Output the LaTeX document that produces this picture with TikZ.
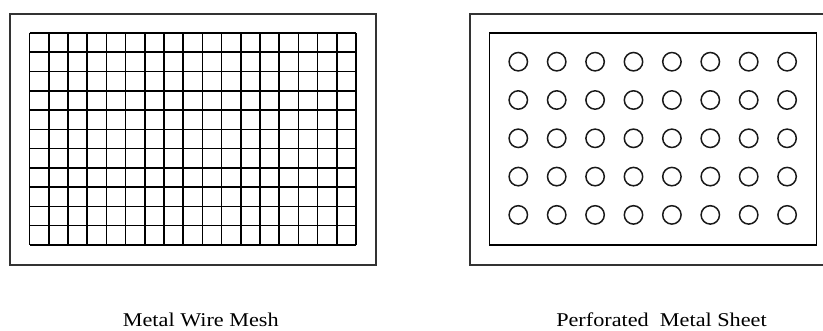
\documentclass[tikz,border=0pt]{standalone}
\usepackage{fontspec}
\setmainfont{Liberation Serif}
\usepackage{tikz}
\usetikzlibrary{positioning}

\begin{document}
\begin{tikzpicture}[
      x=1pt, y=-1pt,
      frame/.style={draw=black!80, line width=1.7pt},
      panel/.style={draw=black, line width=1.6pt},
      wire/.style={draw=black, line width=1.6pt},
      hole/.style={draw=black!90, line width=1.5pt},
      caption/.style={font=\fontsize{19.5}{22}\selectfont, anchor=base, xscale=1.14, transform shape}
    ]
      \useasboundingbox (0,0) rectangle (823,331);
      % wire mesh
      \draw[frame] (10,14) rectangle (376,265);
      \foreach \i in {0,...,17}
        \draw[wire] ({29.5+19.2*\i},33) -- ({29.5+19.2*\i},245);
      \foreach \j in {0,...,11}
        \draw[wire] (29.5,{33+19.27*\j}) -- (356,{33+19.27*\j});
      % perforated sheet
      \draw[frame] (470,14) rectangle (828,265);
      \draw[panel] (489.5,33) rectangle (816.5,245);
      \foreach \i in {0,...,7}
        \foreach \j in {0,...,4}
          \draw[hole] ({518.3+38.4*\i},{61.7+38.3*\j}) circle (9.2);
      % captions
      \node[caption] (mesh) at (200.8,327) {Metal Wire Mesh};
      \node[caption] (sheet) at (661.5,327) {Perforated\ \ Metal Sheet};
\end{tikzpicture}
\end{document}
